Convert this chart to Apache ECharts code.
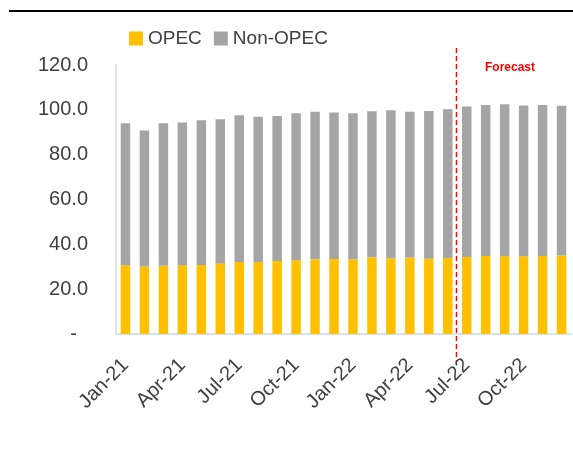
<!DOCTYPE html>
<html>
<head>
<meta charset="utf-8">
<script src="https://cdn.jsdelivr.net/npm/echarts@6/dist/echarts.min.js"></script>
<style>
  html, body { margin: 0; padding: 0; background: #fff; }
  #chart { width: 573px; height: 450px; }
</style>
</head>
<body>
<div id="chart"></div>
<script>
var months = ['Jan-21', 'Feb-21', 'Mar-21', 'Apr-21', 'May-21', 'Jun-21',
  'Jul-21', 'Aug-21', 'Sep-21', 'Oct-21', 'Nov-21', 'Dec-21',
  'Jan-22', 'Feb-22', 'Mar-22', 'Apr-22', 'May-22', 'Jun-22',
  'Jul-22', 'Aug-22', 'Sep-22', 'Oct-22', 'Nov-22', 'Dec-22'];
var opec = [30.7, 30.1, 30.4, 30.7, 30.8, 31.5, 32.1, 32.1, 32.6, 32.9, 33.3, 33.5,
  33.3, 34.2, 33.8, 34.1, 33.6, 33.9, 34.4, 34.8, 34.7, 34.7, 34.8, 35.0];
var nonOpec = [63.3, 60.7, 63.6, 63.6, 64.6, 64.3, 65.5, 64.8, 64.6, 65.6, 65.9, 65.3,
  65.2, 65.2, 66.0, 65.1, 65.9, 66.4, 67.1, 67.4, 67.8, 67.2, 67.4, 66.8];
var yTicks = [0, 20, 40, 60, 80, 100, 120];
var forecastAfter = 'Jun-22';

var chart = echarts.init(document.getElementById('chart'));
var txt = '#404040';
var font = 'Liberation Sans';

chart.setOption({
  animation: false,
  legend: {
    left: 124, top: 24,
    itemWidth: 14, itemHeight: 14, itemGap: 12,
    icon: 'rect',
    textStyle: { color: txt, fontSize: 19, fontFamily: font },
    data: ['OPEC', 'Non-OPEC']
  },
  grid: { left: 116, right: 2, top: 65, bottom: 116 },
  xAxis: {
    type: 'category',
    data: months,
    axisLine: { lineStyle: { color: '#c6d9f1', width: 1.5 } },
    axisTick: { interval: 2, length: 6, lineStyle: { color: '#c6d9f1', width: 1.5 } },
    axisLabel: {
      interval: 2, rotate: 45, margin: 28,
      color: txt, fontSize: 20, fontFamily: font
    }
  },
  yAxis: {
    type: 'value',
    min: yTicks[0], max: yTicks[yTicks.length - 1], interval: 20,
    splitLine: { show: false },
    axisLine: { show: true, lineStyle: { color: '#d9d9d9', width: 1.5 } },
    axisTick: { show: false },
    axisLabel: {
      color: txt, fontSize: 20, fontFamily: font, margin: 28,
      formatter: function (v) { return v === 0 ? '-  ' : v.toFixed(1); }
    }
  },
  series: [
    { name: 'OPEC', type: 'bar', stack: 'all', data: opec, barCategoryGap: '50%',
      itemStyle: { color: '#FFC000' } },
    { name: 'Non-OPEC', type: 'bar', stack: 'all', data: nonOpec, barCategoryGap: '50%',
      itemStyle: { color: '#A5A5A5' } }
  ]
});

// forecast divider between Jun-22 and Jul-22
var idx = months.indexOf(forecastAfter);
var x1 = chart.convertToPixel({ xAxisIndex: 0 }, months[idx]);
var x2 = chart.convertToPixel({ xAxisIndex: 0 }, months[idx + 1]);
var xd = Math.round((x1 + x2) / 2) - 0.5;

chart.setOption({
  graphic: [
    { type: 'rect', shape: { x: 9, y: 10, width: 564, height: 2 },
      style: { fill: '#000' } },
    { type: 'line', shape: { x1: xd, y1: 48, x2: xd, y2: 362 },
      style: { stroke: '#FF0000', lineWidth: 1.5, lineDash: [5, 3] } },
    { type: 'text', left: 485, top: 62,
      style: { text: 'Forecast', fill: '#FF0000', fontSize: 12, fontWeight: 'bold', fontFamily: font } }
  ]
});
</script>
</body>
</html>
